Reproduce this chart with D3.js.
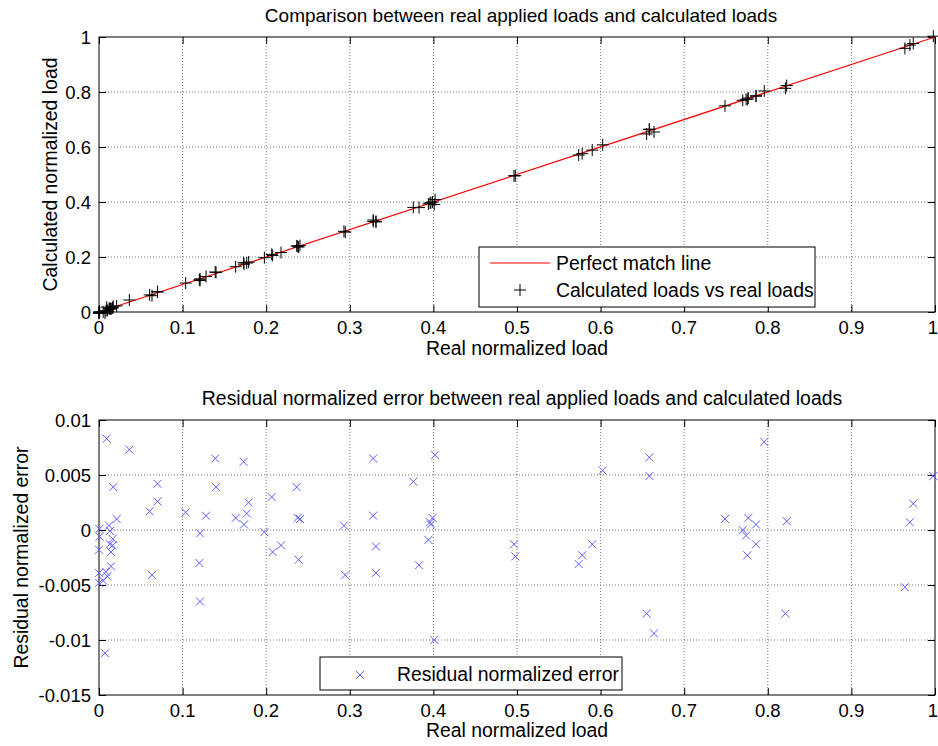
<!DOCTYPE html>
<html>
<head>
<meta charset="utf-8">
<script src="https://cdn.jsdelivr.net/npm/d3@7"></script>
<style>
  body { margin: 0; background: #fff; }
  svg text { font-family: "Liberation Sans", Arial, sans-serif; fill: #000; }
</style>
</head>
<body>
<div id="chart"></div>
<script>
// real applied load (x)
var realLoad = [0.0004, 0.0008, 0.0000, 0.0000, 0.0000, 0.0050, 0.0072, 0.0084, 0.0092, 0.0100,
  0.0120, 0.0132, 0.0130, 0.0144, 0.0144, 0.0164, 0.0164, 0.0170, 0.0211, 0.0363,
  0.0606, 0.0634, 0.0700, 0.0700, 0.1037, 0.1200, 0.1208, 0.1208, 0.1280, 0.1390,
  0.1400, 0.1635, 0.1730, 0.1734, 0.1767, 0.1790, 0.1978, 0.2066, 0.2077, 0.2177,
  0.2365, 0.2377, 0.2388, 0.2404, 0.2930, 0.2946, 0.3280, 0.3280, 0.3313, 0.3313,
  0.3760, 0.3828, 0.3940, 0.3960, 0.3970, 0.3990, 0.4010, 0.4020, 0.4964, 0.4980,
  0.5738, 0.5780, 0.5900, 0.6025, 0.6551, 0.6583, 0.6583, 0.6639, 0.7488, 0.7700,
  0.7740, 0.7755, 0.7767, 0.7859, 0.7860, 0.7958, 0.8210, 0.8226, 0.9640, 0.9700,
  0.9740, 0.9980];

// calculated load (top plot, y)
var calculatedLoad = [0.0005, 0.0002, -0.0018, -0.0039, -0.0048, 0.0004, -0.0040, 0.0046, 0.0175, 0.0058,
  0.0124, 0.0131, 0.0117, 0.0124, 0.0111, 0.0156, 0.0150, 0.0209, 0.0221, 0.0436,
  0.0623, 0.0593, 0.0742, 0.0726, 0.1053, 0.1170, 0.1205, 0.1143, 0.1293, 0.1455,
  0.1439, 0.1646, 0.1792, 0.1739, 0.1782, 0.1815, 0.1976, 0.2096, 0.2057, 0.2163,
  0.2404, 0.2388, 0.2361, 0.2414, 0.2934, 0.2905, 0.3345, 0.3293, 0.3298, 0.3274,
  0.3804, 0.3796, 0.3931, 0.3967, 0.3975, 0.4001, 0.3910, 0.4088, 0.4951, 0.4956,
  0.5707, 0.5757, 0.5887, 0.6079, 0.6475, 0.6649, 0.6632, 0.6545, 0.7498, 0.7700,
  0.7735, 0.7732, 0.7778, 0.7864, 0.7847, 0.8038, 0.8134, 0.8234, 0.9588, 0.9707,
  0.9764, 1.0029];

// residual normalized error (bottom plot, y)
var residualError = [0.0001, -0.0006, -0.0018, -0.0039, -0.0048, -0.0046, -0.0112, -0.0038, 0.0083, -0.0042,
  0.0004, -0.0001, -0.0013, -0.0020, -0.0033, -0.0008, -0.0014, 0.0039, 0.0010, 0.0073,
  0.0017, -0.0041, 0.0042, 0.0026, 0.0016, -0.0030, -0.0003, -0.0065, 0.0013, 0.0065,
  0.0039, 0.0011, 0.0062, 0.0005, 0.0015, 0.0025, -0.0002, 0.0030, -0.0020, -0.0014,
  0.0039, 0.0011, -0.0027, 0.0010, 0.0004, -0.0041, 0.0065, 0.0013, -0.0015, -0.0039,
  0.0044, -0.0032, -0.0009, 0.0007, 0.0005, 0.0011, -0.0100, 0.0068, -0.0013, -0.0024,
  -0.0031, -0.0023, -0.0013, 0.0054, -0.0076, 0.0066, 0.0049, -0.0094, 0.0010, 0.0000,
  -0.0005, -0.0023, 0.0011, 0.0005, -0.0013, 0.0080, -0.0076, 0.0008, -0.0052, 0.0007,
  0.0024, 0.0049];

var perfectLine = [0, 1];

var xTicks = [0, 0.1, 0.2, 0.3, 0.4, 0.5, 0.6, 0.7, 0.8, 0.9, 1];
var topYTicks = [0, 0.2, 0.4, 0.6, 0.8, 1];
var bottomYTicks = [-0.015, -0.01, -0.005, 0, 0.005, 0.01];
var bottomYLabels = ["-0.015", "-0.01", "-0.005", "0", "0.005", "0.01"];

var W = 938, H = 746;
var left = 99, right = 935;
var tickFont = "18.5px", labelFont = "19.4px", titleFont = "19px";

var svg = d3.select("#chart").append("svg")
    .attr("width", W)
    .attr("height", H);

// draws frame, grid, ticks and tick labels for one axes box
function drawAxes(g, x, y, yTicks, yFmt, top, bottom) {
    // grid
    g.selectAll(".gx").data(xTicks.slice(1, -1)).enter().append("line")
        .attr("x1", function(d) { return x(d); }).attr("x2", function(d) { return x(d); })
        .attr("y1", top).attr("y2", bottom)
        .attr("stroke", "#777").attr("stroke-dasharray", "1,2");
    g.selectAll(".gy").data(yTicks.slice(1, -1)).enter().append("line")
        .attr("x1", left).attr("x2", right)
        .attr("y1", function(d) { return y(d); }).attr("y2", function(d) { return y(d); })
        .attr("stroke", "#777").attr("stroke-dasharray", "1,2");

    // inward ticks on all four sides
    g.append("g").attr("transform", "translate(0," + bottom + ")")
        .call(d3.axisBottom(x).tickValues(xTicks).tickSize(-7).tickFormat(""));
    g.append("g").attr("transform", "translate(0," + top + ")")
        .call(d3.axisTop(x).tickValues(xTicks).tickSize(-7).tickFormat(""));
    g.append("g").attr("transform", "translate(" + left + ",0)")
        .call(d3.axisLeft(y).tickValues(yTicks).tickSize(-7).tickFormat(""));
    g.append("g").attr("transform", "translate(" + right + ",0)")
        .call(d3.axisRight(y).tickValues(yTicks).tickSize(-7).tickFormat(""));
    g.selectAll(".domain").remove();
    g.selectAll(".tick line").attr("stroke", "#000");

    // tick labels (the last one nudged so it stays inside the window)
    g.selectAll(".xl").data(xTicks).enter().append("text")
        .attr("x", function(d) { return d === 1 ? x(d) - 2 : x(d); })
        .attr("y", bottom + 22)
        .attr("text-anchor", "middle")
        .style("font-size", tickFont)
        .text(function(d) { return d3.format("")(d); });
    g.selectAll(".yl").data(yTicks).enter().append("text")
        .attr("x", left - 8)
        .attr("y", function(d) { return y(d) + 6.5; })
        .attr("text-anchor", "end")
        .style("font-size", tickFont)
        .text(function(d, i) { return yFmt(d, i); });

    // frame
    g.append("rect")
        .attr("x", left).attr("y", top)
        .attr("width", right - left).attr("height", bottom - top)
        .attr("fill", "none").attr("stroke", "#000").attr("stroke-width", 1);
}

// ---------- top plot ----------
var top1 = 37, bottom1 = 312;
var x1 = d3.scaleLinear().domain([0, 1]).range([left, right]);
var y1 = d3.scaleLinear().domain([0, 1]).range([bottom1, top1]);
var g1 = svg.append("g");

drawAxes(g1, x1, y1, topYTicks, function(d) { return d3.format("")(d); }, top1, bottom1);

g1.append("path")
    .datum(perfectLine)
    .attr("d", d3.line().x(function(d) { return x1(d); }).y(function(d) { return y1(d); }))
    .attr("stroke", "#ff0000").attr("stroke-width", 1.2).attr("fill", "none");

var plusSize = 6;
var plus = g1.selectAll(".plus").data(realLoad).enter().append("path")
    .attr("d", function(d, i) {
        var cx = x1(d), cy = y1(calculatedLoad[i]);
        return "M" + (cx - plusSize) + "," + cy + "H" + (cx + plusSize) +
               "M" + cx + "," + (cy - plusSize) + "V" + (cy + plusSize);
    })
    .attr("stroke", "#000").attr("stroke-width", 1).attr("fill", "none");

g1.append("text")
    .attr("x", (left + right) / 2 + 4).attr("y", 22)
    .attr("text-anchor", "middle").style("font-size", titleFont)
    .text("Comparison between real applied loads and calculated loads");
g1.append("text")
    .attr("x", (left + right) / 2).attr("y", 355)
    .attr("text-anchor", "middle").style("font-size", labelFont)
    .text("Real normalized load");
g1.append("text")
    .attr("transform", "translate(57," + ((top1 + bottom1) / 2) + ") rotate(-90)")
    .attr("text-anchor", "middle").style("font-size", labelFont)
    .text("Calculated normalized load");

// legend top
var lg1 = g1.append("g");
lg1.append("rect").attr("x", 479).attr("y", 247).attr("width", 336).attr("height", 60)
    .attr("fill", "#fff").attr("stroke", "#000");
lg1.append("line").attr("x1", 490).attr("x2", 550).attr("y1", 263).attr("y2", 263)
    .attr("stroke", "#ff0000").attr("stroke-width", 1.2);
lg1.append("path")
    .attr("d", "M" + (520 - plusSize) + ",290H" + (520 + plusSize) + "M520," + (290 - plusSize) + "V" + (290 + plusSize))
    .attr("stroke", "#000");
lg1.append("text").attr("x", 556).attr("y", 270).style("font-size", labelFont).text("Perfect match line");
lg1.append("text").attr("x", 556).attr("y", 297).style("font-size", labelFont).text("Calculated loads vs real loads");

// ---------- bottom plot ----------
var top2 = 420, bottom2 = 695;
var x2 = d3.scaleLinear().domain([0, 1]).range([left, right]);
var y2 = d3.scaleLinear().domain([-0.015, 0.01]).range([bottom2, top2]);
var g2 = svg.append("g");

drawAxes(g2, x2, y2, bottomYTicks, function(d, i) { return bottomYLabels[i]; }, top2, bottom2);

var xs = 4;
g2.selectAll(".cross").data(realLoad).enter().append("path")
    .attr("d", function(d, i) {
        var cx = x2(d), cy = y2(residualError[i]);
        return "M" + (cx - xs) + "," + (cy - xs) + "L" + (cx + xs) + "," + (cy + xs) +
               "M" + (cx - xs) + "," + (cy + xs) + "L" + (cx + xs) + "," + (cy - xs);
    })
    .attr("stroke", "#5c5cff").attr("stroke-width", 1).attr("fill", "none");

g2.append("text")
    .attr("x", (left + right) / 2 + 5).attr("y", 405)
    .attr("text-anchor", "middle").style("font-size", "19.4px")
    .text("Residual normalized error between real applied loads and calculated loads");
g2.append("text")
    .attr("x", (left + right) / 2).attr("y", 737)
    .attr("text-anchor", "middle").style("font-size", labelFont)
    .text("Real normalized load");
g2.append("text")
    .attr("transform", "translate(28," + ((top2 + bottom2) / 2) + ") rotate(-90)")
    .attr("text-anchor", "middle").style("font-size", labelFont)
    .text("Residual normalized error");

// legend bottom
var lg2 = g2.append("g");
lg2.append("rect").attr("x", 320).attr("y", 657).attr("width", 302).attr("height", 33)
    .attr("fill", "#fff").attr("stroke", "#000");
lg2.append("path")
    .attr("d", "M" + (360 - xs) + "," + (675 - xs) + "L" + (360 + xs) + "," + (675 + xs) +
               "M" + (360 - xs) + "," + (675 + xs) + "L" + (360 + xs) + "," + (675 - xs))
    .attr("stroke", "#5c5cff").attr("fill", "none");
lg2.append("text").attr("x", 397).attr("y", 681).style("font-size", labelFont).text("Residual normalized error");
</script>
</body>
</html>
